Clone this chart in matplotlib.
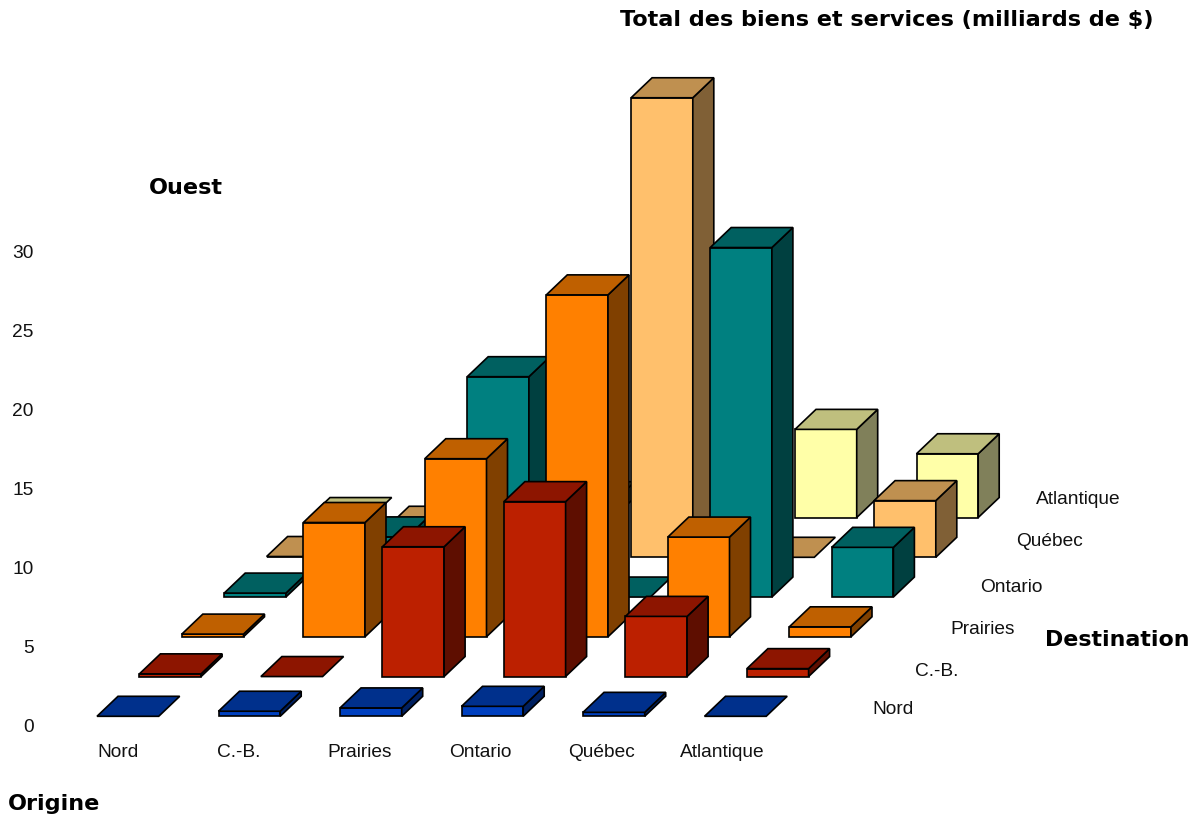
import matplotlib
matplotlib.use("Agg")
import matplotlib.pyplot as plt

plt.rcParams['font.family'] = ['Liberation Sans', 'DejaVu Sans']

origins = ["Nord", "C.-B.", "Prairies", "Ontario", "Québec", "Atlantique"]
destinations = ["Nord", "C.-B.", "Prairies", "Ontario", "Québec", "Atlantique"]
y_ticks = [0, 5, 10, 15, 20, 25, 30]

# Values: billions of $, by destination row (front to back), origin column left to right
nord = [0.0, 0.32, 0.53, 0.63, 0.25, 0.0]
cb = [0.17, 0.0, 8.2, 11.05, 3.8, 0.5]
prairies = [0.17, 7.22, 11.25, 21.6, 6.3, 0.63]
ontario = [0.25, 3.8, 13.92, 0.0, 22.08, 3.14]
quebec = [0.05, 1.96, 1.5, 29.03, 0.0, 3.58]
atlantique = [0.0, 0.5, 1.0, 0.3, 5.57, 4.03]
rows = [nord, cb, prairies, ontario, quebec, atlantique]

front_colors = ["#0040BF", "#BC2000", "#FF8000", "#008080", "#FFC06C", "#FFFFA8"]
top_colors = ["#00308C", "#8D1500", "#BF6000", "#006060", "#BF9050", "#BFBF7E"]
side_colors = ["#002060", "#5E0E00", "#804000", "#004040", "#806036", "#80805A"]

W, H = 1199, 817
fig = plt.figure(figsize=(W / 100, H / 100), dpi=100)
ax_l, ax_b_px = 40, 742
ax = fig.add_axes([ax_l / W, 1 - ax_b_px / H, (W - ax_l) / W, ax_b_px / H])

PX_COL = 121.5     # pixels per column
PX_VAL = 15.83     # pixels per value unit
X0, Y0 = 97, 726   # pixel of x=0, y=0
ax.set_xlim((ax_l - X0) / PX_COL, (W - X0) / PX_COL)
ax.set_ylim((Y0 - ax_b_px) / PX_VAL, Y0 / PX_VAL)

BAR_W = 61.7 / PX_COL
DEPTH_X = 21 / PX_COL
DEPTH_Y = 20 / PX_VAL
ROW_DX = 42.4 / PX_COL
ROW_DY = 39.75 / PX_VAL
BASE = 9.7 / PX_VAL
LW = 1.2

for r in range(len(rows) - 1, -1, -1):
    for c, v in enumerate(rows[r]):
        x0 = c + r * ROW_DX
        y0 = BASE + r * ROW_DY
        x1 = x0 + BAR_W
        y1 = y0 + v
        kw = dict(edgecolor="black", linewidth=LW, joinstyle="miter", clip_on=False)
        if v > 0:
            ax.fill([x0, x1, x1, x0], [y0, y0, y1, y1], facecolor=front_colors[r], **kw)
            ax.fill([x1, x1 + DEPTH_X, x1 + DEPTH_X, x1],
                    [y0, y0 + DEPTH_Y, y1 + DEPTH_Y, y1], facecolor=side_colors[r], **kw)
        ax.fill([x0, x1, x1 + DEPTH_X, x0 + DEPTH_X],
                [y1, y1, y1 + DEPTH_Y, y1 + DEPTH_Y], facecolor=top_colors[r], **kw)

for s in ax.spines.values():
    s.set_visible(False)
ax.patch.set_visible(False)
ax.set_yticks(y_ticks)
ax.set_xticks([c * 0.994 + 0.173 for c in range(len(origins))])
ax.set_xticklabels(origins)
ax.tick_params(axis="both", length=0, labelsize=13.8, labelcolor="#111111")
ax.tick_params(axis="y", pad=4.5)
ax.tick_params(axis="x", pad=1.5)


def label(px, py, text, **kw):
    fig.text(px / W, 1 - py / H, text, va="center", **kw)


dest_pos = [(872, 709), (915, 671), (950, 629), (980, 588), (1016, 542), (1036, 499)]
for (px, py), name in zip(dest_pos, destinations):
    label(px, py, name, ha="left", fontsize=13.8, color="#111111")

bold = dict(fontsize=16.1, fontweight="bold", color="black", family="DejaVu Sans")
label(1154, 20, "Total des biens et services (milliards de $)", ha="right", **bold)
label(149, 188, "Ouest", ha="left", **bold)
label(1045, 640, "Destination", ha="left", fontsize=15.9, fontweight="bold", color="black", family="DejaVu Sans")
label(8, 804, "Origine", ha="left", **bold)

fig.savefig("out.png", dpi=100)
